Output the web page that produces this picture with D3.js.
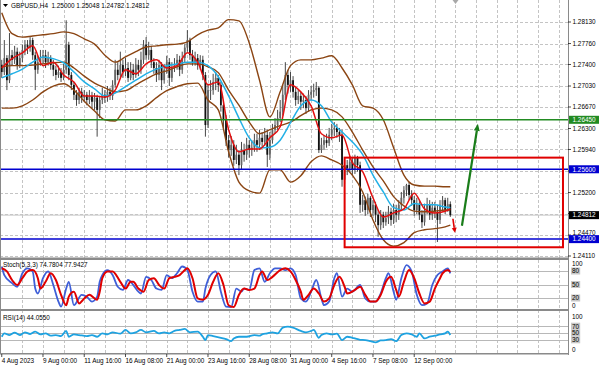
<!DOCTYPE html>
<html>
<head>
<meta charset="utf-8">
<script src="https://cdn.jsdelivr.net/npm/d3@7"></script>
<style>
  body { margin: 0; background: #fff; }
  svg { display: block; font-family: "Liberation Sans", Arial, sans-serif; }
</style>
</head>
<body>
<svg id="chart" width="600" height="367"></svg>
<script>
// GBPUSD H4 candles, 4 Aug 08:00 .. 14 Sep 08:00 (175 bars)
var firstOpen = 1.2739;
var closes = [
  1.2727,1.2751,1.2713,1.2756,1.2748,1.2762,1.2739,1.2751,1.2765,1.2774,
  1.2769,1.2782,1.2756,1.2731,1.2744,1.2751,1.2756,1.2744,1.2751,1.2739,
  1.2731,1.2722,1.2727,1.2717,1.2731,1.2774,1.2722,1.2705,1.2688,1.2679,
  1.2693,1.2683,1.2688,1.2679,1.2686,1.2676,1.2683,1.2662,1.2679,1.2688,
  1.2683,1.2693,1.2686,1.2705,1.2731,1.2722,1.2739,1.2727,1.2734,1.2717,
  1.2731,1.2722,1.2739,1.2731,1.2748,1.2774,1.2756,1.2765,1.2744,1.2734,
  1.2722,1.2739,1.2713,1.2731,1.2744,1.2717,1.2734,1.2739,1.2748,1.2731,
  1.2751,1.2769,1.2782,1.2756,1.2744,1.2751,1.2739,1.2748,1.2722,1.2636,
  1.2696,1.2696,1.2710,1.2717,1.2705,1.2670,1.2645,1.2610,1.2593,1.2602,
  1.2576,1.2585,1.2567,1.2593,1.2585,1.2602,1.2593,1.2597,1.2610,1.2602,
  1.2614,1.2607,1.2619,1.2585,1.2610,1.2628,1.2636,1.2648,1.2659,1.2688,
  1.2722,1.2705,1.2713,1.2693,1.2679,1.2686,1.2676,1.2679,1.2665,1.2688,
  1.2693,1.2696,1.2700,1.2593,1.2602,1.2610,1.2605,1.2619,1.2628,1.2631,
  1.2624,1.2619,1.2542,1.2567,1.2562,1.2573,1.2559,1.2580,1.2567,1.2499,
  1.2507,1.2490,1.2511,1.2490,1.2499,1.2482,1.2464,1.2482,1.2469,1.2476,
  1.2487,1.2473,1.2490,1.2482,1.2499,1.2511,1.2524,1.2533,1.2516,1.2507,
  1.2490,1.2499,1.2482,1.2469,1.2490,1.2499,1.2482,1.2494,1.2487,1.2473,
  1.2499,1.2507,1.2490,1.25000,1.24812
];
var highs = [
  1.2748,1.2782,1.2756,1.2794,1.2765,1.2772,1.2769,1.2762,1.2774,1.2782,
  1.2782,1.2787,1.2786,1.2762,1.2755,1.2765,1.2765,1.2765,1.2762,1.2756,
  1.2748,1.2738,1.2738,1.2734,1.2741,1.2816,1.2779,1.2727,1.2710,1.2696,
  1.2700,1.2700,1.2696,1.2693,1.2696,1.2693,1.2691,1.2688,1.2686,1.2700,
  1.2696,1.2703,1.2700,1.2713,1.2748,1.2744,1.2762,1.2748,1.2751,1.2744,
  1.2744,1.2741,1.2751,1.2748,1.2762,1.2782,1.2787,1.2779,1.2772,1.2751,
  1.2744,1.2748,1.2744,1.2741,1.2755,1.2751,1.2744,1.2751,1.2758,1.2755,
  1.2762,1.2775,1.2799,1.2786,1.2765,1.2762,1.2758,1.2756,1.2755,1.2727,
  1.2707,1.2713,1.2724,1.2727,1.2722,1.2710,1.2679,1.2653,1.2619,1.2617,
  1.2610,1.2602,1.2593,1.2607,1.2604,1.2614,1.2610,1.2610,1.2621,1.2621,
  1.2628,1.2624,1.2631,1.2628,1.2624,1.2638,1.2648,1.2662,1.2679,1.2705,
  1.2744,1.2731,1.2727,1.2720,1.2700,1.2696,1.2693,1.2690,1.2686,1.2696,
  1.2703,1.2707,1.2710,1.2703,1.2614,1.2619,1.2621,1.2631,1.2638,1.2641,
  1.2638,1.2631,1.2628,1.2576,1.2576,1.2583,1.2580,1.2585,1.2583,1.2573,
  1.2516,1.2513,1.2518,1.2514,1.2507,1.2504,1.2490,1.2490,1.2487,1.2487,
  1.2497,1.2494,1.2501,1.2499,1.2507,1.2521,1.2531,1.2535,1.2538,1.2524,
  1.2514,1.2511,1.2507,1.2490,1.2501,1.2511,1.2507,1.2504,1.2504,1.2499,
  1.2507,1.2514,1.2511,1.2511,1.25048
];
var lows = [
  1.2717,1.2722,1.2696,1.2708,1.2738,1.2741,1.2731,1.2734,1.2744,1.2756,
  1.2758,1.2762,1.2748,1.2696,1.2724,1.2738,1.2741,1.2734,1.2738,1.2731,
  1.2720,1.2713,1.2717,1.2710,1.2713,1.2724,1.2713,1.2696,1.2679,1.2669,
  1.2672,1.2674,1.2676,1.2670,1.2672,1.2665,1.2662,1.2616,1.2648,1.2672,
  1.2674,1.2676,1.2679,1.2679,1.2700,1.2713,1.2717,1.2717,1.2720,1.2710,
  1.2713,1.2713,1.2717,1.2720,1.2724,1.2741,1.2748,1.2748,1.2734,1.2724,
  1.2710,1.2713,1.2696,1.2707,1.2724,1.2703,1.2710,1.2727,1.2731,1.2720,
  1.2724,1.2744,1.2762,1.2748,1.2738,1.2738,1.2731,1.2731,1.2713,1.2616,
  1.2631,1.2679,1.2688,1.2696,1.2693,1.2659,1.2631,1.2600,1.2580,1.2583,
  1.2566,1.2569,1.2550,1.2559,1.2573,1.2576,1.2580,1.2583,1.2590,1.2590,
  1.2593,1.2597,1.2600,1.2564,1.2576,1.2604,1.2621,1.2628,1.2641,1.2652,
  1.2679,1.2690,1.2693,1.2683,1.2669,1.2672,1.2662,1.2665,1.2655,1.2659,
  1.2679,1.2683,1.2686,1.2588,1.2588,1.2593,1.2597,1.2600,1.2610,1.2617,
  1.2614,1.2607,1.2530,1.2535,1.2550,1.2556,1.2549,1.2552,1.2556,1.2485,
  1.2487,1.2480,1.2483,1.2478,1.2480,1.2469,1.2444,1.2456,1.2459,1.2463,
  1.2466,1.2463,1.2466,1.2469,1.2473,1.2490,1.2501,1.2514,1.2507,1.2497,
  1.2480,1.2483,1.2473,1.2459,1.2463,1.2483,1.2473,1.2473,1.2476,1.2435,
  1.2466,1.2490,1.2483,1.2487,1.24782
];

// indicator lines read every 4 bars
var lineBars = [0,4,8,12,16,20,24,28,32,36,40,44,48,52,56,60,64,68,72,76,80,84,88,92,96,
  100,104,108,112,116,120,124,128,132,136,140,144,148,152,156,160,164,168,172,174];
var maFast = [1.2734,1.2750,1.2760,1.2772,1.2738,1.2744,1.2722,1.2710,1.2686,1.2686,
  1.2684,1.2696,1.2731,1.2724,1.2741,1.2748,1.2734,1.2738,1.2760,1.2744,
  1.2705,1.2710,1.2628,1.2590,1.2595,1.2595,1.2614,1.2633,1.2705,1.2693,
  1.2669,1.2621,1.2614,1.2619,1.2571,1.2556,1.2511,1.2478,1.2485,1.2492,
  1.2519,1.2492,1.2485,1.2488,1.2492];
var maSlow = [1.2717,1.2724,1.2732,1.2744,1.2753,1.2750,1.2743,1.2727,1.2710,1.2698,
  1.2686,1.2691,1.2702,1.2713,1.2724,1.2732,1.2738,1.2741,1.2744,1.2744,
  1.2738,1.2719,1.2686,1.2648,1.2614,1.2597,1.2598,1.2610,1.2640,1.2669,
  1.2679,1.2669,1.2641,1.2624,1.2607,1.2585,1.2550,1.2521,1.2494,1.2490,
  1.2501,1.2499,1.2499,1.2495,1.2494];
var bbUpper = [1.2829,1.2793,1.2787,1.2789,1.2791,1.2793,1.2796,1.2793,1.2784,1.2775,
  1.2756,1.2744,1.2753,1.2762,1.2770,1.2772,1.2774,1.2775,1.2779,1.2791,
  1.2799,1.2803,1.2817,1.2815,1.2777,1.2713,1.2650,1.2693,1.2738,1.2748,
  1.2748,1.2751,1.2755,1.2734,1.2705,1.2669,1.2665,1.2645,1.2597,1.2550,
  1.2533,1.2531,1.2531,1.2530,1.2530];
var bbMiddle = [1.2736,1.2738,1.2738,1.2739,1.2741,1.2743,1.2744,1.2734,1.2720,1.2708,
  1.2700,1.2693,1.2695,1.2705,1.2715,1.2724,1.2729,1.2736,1.2741,1.2741,
  1.2736,1.2726,1.2696,1.2670,1.2641,1.2621,1.2628,1.2635,1.2641,1.2652,
  1.2662,1.2665,1.2662,1.2650,1.2624,1.2593,1.2564,1.2540,1.2513,1.2497,
  1.2488,1.2487,1.2488,1.2490,1.2490];
var bbLower = [1.2665,1.2665,1.2669,1.2679,1.2693,1.2703,1.2707,1.2696,1.2677,1.2660,
  1.2645,1.2643,1.2662,1.2662,1.2669,1.2683,1.2695,1.2702,1.2707,1.2708,
  1.2679,1.2662,1.2590,1.2538,1.2523,1.2519,1.2559,1.2559,1.2538,1.2549,
  1.2573,1.2583,1.2576,1.2567,1.2550,1.2521,1.2473,1.2439,1.2428,1.2434,
  1.2451,1.2456,1.2458,1.2461,1.2464];

// Stochastic (5,3,3)
var kBars = [0,1,4,6,8,10,12,13,14,16,18,20,22,23,25,26,28,31,33,35,37,38,39,41,43,45,47,49,51,53,
  54,56,58,60,62,64,66,68,70,72,74,76,78,79,81,83,85,87,89,91,93,94,96,98,100,102,104,106,108,110,
  112,114,116,118,120,122,124,125,127,129,130,132,134,136,139,141,143,145,147,149,150,152,153,155,157,159,161,163,165,167,
  169,171,173,174];
var kVals = [90,71,53,45,75,86,79,41,30,64,79,49,12,1,41,56,4,27,23,12,23,56,71,82,71,45,38,60,49,34,
  30,67,60,41,38,71,64,75,90,82,34,12,12,41,71,79,34,1,0,41,34,41,38,82,86,56,75,86,86,82,
  86,71,19,12,34,60,19,4,12,64,75,23,41,34,49,19,12,12,30,64,75,34,16,64,93,79,27,4,8,49,
  71,79,86,74.7804];
var dBars = [0,2,4,6,8,10,12,14,15,17,19,21,23,25,26,28,30,32,34,36,37,38,39,41,43,46,48,50,51,53,
  55,57,59,61,63,65,67,69,71,72,74,76,78,80,82,84,86,88,90,92,94,96,98,100,101,103,105,108,110,112,
  114,116,117,119,121,123,125,127,129,131,133,134,137,139,141,143,145,147,149,151,153,154,156,158,160,162,164,166,168,170,
  171,173,174];
var dVals = [86,79,60,49,64,79,82,64,41,56,75,60,27,4,23,34,8,19,27,19,16,34,64,79,79,56,41,56,56,41,
  34,60,64,49,41,64,67,71,82,86,64,19,16,27,56,75,49,4,0,27,41,38,41,71,79,60,67,82,86,79,
  60,34,16,27,41,30,12,19,49,67,45,30,38,45,27,12,12,27,56,67,38,23,56,82,64,30,8,12,41,64,
  75,82,77.9427];

// RSI(14)
var rsiBars = [0,1,3,5,7,9,11,13,15,17,19,21,23,25,26,28,30,33,35,37,39,41,43,46,48,50,52,54,56,59,
  61,63,65,67,69,71,73,76,78,79,80,82,85,87,89,90,92,95,98,100,101,103,105,107,109,111,113,116,118,120,
  121,123,124,126,128,130,132,134,136,137,139,141,143,145,147,149,151,153,155,157,159,161,162,164,166,168,170,172,173,174];
var rsiVals = [39,49,44,51,44,52,47,54,46,49,42,44,41,56,39,46,44,41,44,39,49,46,52,48,59,49,52,59,52,56,
  49,52,49,56,59,62,52,54,39,29,44,41,36,32,26,34,39,39,44,42,46,49,52,49,66,69,66,56,52,56,
  59,36,44,49,46,48,29,39,36,34,30,29,26,22.5,28,29,32,26,44,49,46,39,49,34,39,42,46,49,54,44.055];

var priceTicks = [1.28130,1.27760,1.27400,1.27030,1.26670,1.26300,1.25940,1.25570,1.25200,1.24840,1.24470,1.24110];
var timeLabels = ["4 Aug 2023","9 Aug 00:00","11 Aug 16:00","16 Aug 08:00","21 Aug 00:00","23 Aug 16:00",
  "28 Aug 08:00","31 Aug 00:00","4 Sep 16:00","7 Sep 08:00","12 Sep 00:00"];
var stochLevels = [80, 50, 20];
var rsiLevels = [70, 50, 30];

// drawn objects
var greenLevel = 1.26450;
var blueLevels = [1.25600, 1.24400];
var boxBars = [133, 217.7], boxPrices = [1.2580, 1.2426];
var upArrow = [[178.5, 1.2463], [184.7, 1.2638]];
var downArrow = [[175, 1.2475], [175.8, 1.2451]];
var lastPrice = 1.24812;

var svg = d3.select("#chart");
var plotR = 568;
var fontSize = 6.4;

var x = d3.scaleLinear().domain([0, 220]).range([1.75, 1.75 + 220 * 2.578]);
var y = d3.scaleLinear().domain([1.24110, 1.28130]).range([256, 22]);
var yStoch = d3.scaleLinear().domain([0, 100]).range([307, 262]);
var yRsi = d3.scaleLinear().domain([0, 100]).range([350, 316]);

svg.append("rect").attr("width", 600).attr("height", 367).attr("fill", "#fff");

// grid
var grid = svg.append("g").attr("stroke", "#c4c4c4").attr("stroke-width", 1).attr("stroke-dasharray", "3,2");
var gridBars = d3.range(8, 221, 8);
grid.selectAll("line.v").data(gridBars).enter().append("line")
  .attr("x1", function (b) { return Math.round(x(b)) + 0.5; })
  .attr("x2", function (b) { return Math.round(x(b)) + 0.5; })
  .attr("y1", 0).attr("y2", 354);
grid.selectAll("line.h").data(priceTicks).enter().append("line")
  .attr("x1", 0).attr("x2", plotR)
  .attr("y1", function (p) { return Math.round(y(p)) + 0.5; })
  .attr("y2", function (p) { return Math.round(y(p)) + 0.5; });

// indicator levels
var lv = svg.append("g").attr("stroke", "#b8b8b8").attr("stroke-width", 1);
lv.selectAll("line.s").data(stochLevels).enter().append("line")
  .attr("x1", 0).attr("x2", plotR)
  .attr("y1", function (v) { return Math.round(yStoch(v)) + 0.5; })
  .attr("y2", function (v) { return Math.round(yStoch(v)) + 0.5; });
lv.selectAll("line.r").data(rsiLevels).enter().append("line")
  .attr("x1", 0).attr("x2", plotR)
  .attr("y1", function (v) { return Math.round(yRsi(v)) + 0.5; })
  .attr("y2", function (v) { return Math.round(yRsi(v)) + 0.5; });

// bid line
svg.append("line").attr("x1", 0).attr("x2", plotR)
  .attr("y1", y(lastPrice)).attr("y2", y(lastPrice))
  .attr("stroke", "#c8c8c8").attr("stroke-width", 1);

// candles
var bars = closes.map(function (c, i) {
  var o = i === 0 ? firstOpen : closes[i - 1];
  return { i: i, o: o, c: c, h: Math.max(highs[i], o, c), l: Math.min(lows[i], o, c) };
});
var cg = svg.append("g");
cg.selectAll("line").data(bars).enter().append("line")
  .attr("x1", function (d) { return x(d.i); })
  .attr("x2", function (d) { return x(d.i); })
  .attr("y1", function (d) { return y(d.h); })
  .attr("y2", function (d) { return y(d.l); })
  .attr("stroke", "#333").attr("stroke-width", 0.9);
cg.selectAll("rect").data(bars).enter().append("rect")
  .attr("x", function (d) { return x(d.i) - 0.9; })
  .attr("width", 1.8)
  .attr("y", function (d) { return y(Math.max(d.o, d.c)); })
  .attr("height", function (d) { return Math.max(0.8, Math.abs(y(d.o) - y(d.c))); })
  .attr("fill", function (d) { return d.c >= d.o ? "#666" : "#111"; });

// main chart lines
function drawLine(vals, bx, ys, color, w) {
  var pts = vals.map(function (v, k) { return [x(bx[k]), ys(v)]; });
  svg.append("path")
    .attr("d", d3.line().curve(d3.curveMonotoneX)(pts))
    .attr("fill", "none").attr("stroke", color).attr("stroke-width", w)
    .attr("stroke-linejoin", "round");
}
drawLine(bbUpper, lineBars, y, "#8b4513", 1.4);
drawLine(bbMiddle, lineBars, y, "#8b4513", 1.4);
drawLine(bbLower, lineBars, y, "#8b4513", 1.4);
drawLine(maSlow, lineBars, y, "#22b0e6", 1.5);
drawLine(maFast, lineBars, y, "#e31010", 1.5);

// horizontal levels
svg.append("line").attr("x1", 0).attr("x2", plotR)
  .attr("y1", y(greenLevel)).attr("y2", y(greenLevel))
  .attr("stroke", "#228b22").attr("stroke-width", 1.5);
svg.selectAll("line.blue").data(blueLevels).enter().append("line")
  .attr("x1", 0).attr("x2", plotR)
  .attr("y1", function (p) { return y(p); })
  .attr("y2", function (p) { return y(p); })
  .attr("stroke", "#0000d0").attr("stroke-width", 1.5);

// rectangle
svg.append("rect")
  .attr("x", x(boxBars[0])).attr("y", y(boxPrices[0]))
  .attr("width", x(boxBars[1]) - x(boxBars[0]))
  .attr("height", y(boxPrices[1]) - y(boxPrices[0]))
  .attr("fill", "none").attr("stroke", "#e00000").attr("stroke-width", 2);

// arrows
function arrow(p0, p1, color, w, hl, hw) {
  var x0 = x(p0[0]), y0 = y(p0[1]), x1 = x(p1[0]), y1 = y(p1[1]);
  var a = Math.atan2(y1 - y0, x1 - x0);
  var bx = x1 - hl * Math.cos(a), by = y1 - hl * Math.sin(a);
  svg.append("line").attr("x1", x0).attr("y1", y0).attr("x2", bx).attr("y2", by)
    .attr("stroke", color).attr("stroke-width", w);
  svg.append("polygon")
    .attr("points", [[x1, y1],
      [bx + hw * Math.sin(a), by - hw * Math.cos(a)],
      [bx - hw * Math.sin(a), by + hw * Math.cos(a)]].map(function (p) { return p.join(","); }).join(" "))
    .attr("fill", color);
}
arrow(upArrow[0], upArrow[1], "#1a7d1a", 2.2, 7, 3);
arrow(downArrow[0], downArrow[1], "#e00000", 1.6, 5, 2.5);

// stochastic and rsi lines
drawLine(kVals, kBars, yStoch, "#3f5fd8", 1.8);
drawLine(dVals, dBars, yStoch, "#e00000", 2);
drawLine(rsiVals, rsiBars, yRsi, "#1ea2e0", 1.8);

// panel frames
var frame = svg.append("g").attr("fill", "#8a8a8a");
frame.append("rect").attr("x", 0).attr("y", 257.5).attr("width", plotR + 1).attr("height", 2.5);
frame.append("rect").attr("x", 0).attr("y", 309).attr("width", plotR + 1).attr("height", 2);
frame.append("rect").attr("x", 0).attr("y", 353).attr("width", plotR + 1).attr("height", 1.5);
frame.append("rect").attr("x", 0).attr("y", 0).attr("width", 1).attr("height", 354);
frame.append("rect").attr("x", plotR).attr("y", 0).attr("width", 1).attr("height", 355);

// chart shift marker
var sx = x(176);
svg.append("polygon").attr("points", [[sx - 3, 0], [sx + 3, 0], [sx, 4]].map(function (p) { return p.join(","); }).join(" "))
  .attr("fill", "#a8a8a8");

var txt = svg.append("g").attr("font-size", fontSize).attr("fill", "#000");

// price axis: grid labels hidden behind a marked level are skipped, near ones pushed clear
var marked = [greenLevel].concat(blueLevels, [lastPrice]);
priceTicks.forEach(function (p) {
  var py = y(p);
  txt.append("line").attr("x1", plotR).attr("x2", plotR + 3).attr("y1", py).attr("y2", py).attr("stroke", "#000").attr("stroke-width", 0.7);
  var near = d3.least(marked, function (m) { return Math.abs(y(m) - py); });
  var dy = py - y(near);
  if (Math.abs(dy) < 3) return;
  var base = py + 2.3;
  if (dy < 0 && base > y(near) - 4.6) base = y(near) - 4.6;
  if (dy > 0 && base - 4.8 < y(near) + 4.2) base = y(near) + 9;
  txt.append("text").attr("x", plotR + 4.5).attr("y", base).text(p.toFixed(5));
});
function priceBox(p, bg) {
  var py = y(p);
  txt.append("rect").attr("x", plotR + 1).attr("y", py - 4).attr("width", 30).attr("height", 8).attr("fill", bg);
  txt.append("text").attr("x", plotR + 4.5).attr("y", py + 2.3).attr("fill", "#fff").text(p.toFixed(5));
}
priceBox(greenLevel, "#228b22");
blueLevels.forEach(function (p) { priceBox(p, "#0000d0"); });
priceBox(lastPrice, "#000");

// stoch / rsi axis
function levelLabels(vals, ys, boxed, lo, hi) {
  vals.forEach(function (v) {
    var py = Math.max(lo, Math.min(hi, ys(v)));
    var label = String(v);
    if (boxed.indexOf(v) >= 0) {
      txt.append("rect").attr("x", plotR + 3).attr("y", py - 3.5)
        .attr("width", label.length * 3.6 + 2).attr("height", 7).attr("fill", "#c8c8c8");
    }
    txt.append("text").attr("x", plotR + 4).attr("y", py + 2.3).text(label);
  });
}
levelLabels([100, 80, 50, 20, 0], yStoch, stochLevels, 263.5, 306);
levelLabels([100, 70, 50, 30, 0], yRsi, rsiLevels, 316.5, 350);

// time axis
timeLabels.forEach(function (t, k) {
  var tx = x(k * 16);
  txt.append("line").attr("x1", tx).attr("x2", tx).attr("y1", 354).attr("y2", 357).attr("stroke", "#000").attr("stroke-width", 0.7);
  txt.append("text").attr("x", tx).attr("y", 363).text(t);
});

// titles
txt.append("polygon").attr("points", "3,4 8,4 5.5,7").attr("fill", "#000");
txt.append("text").attr("x", 11).attr("y", 8).attr("xml:space", "preserve")
  .text("GBPUSD,H4  1.25000 1.25048 1.24782 1.24812");
txt.append("text").attr("x", 3).attr("y", 267).text("Stoch(5,3,3) 74.7804 77.9427");
txt.append("text").attr("x", 3).attr("y", 320).text("RSI(14) 44.0550");
</script>
</body>
</html>
